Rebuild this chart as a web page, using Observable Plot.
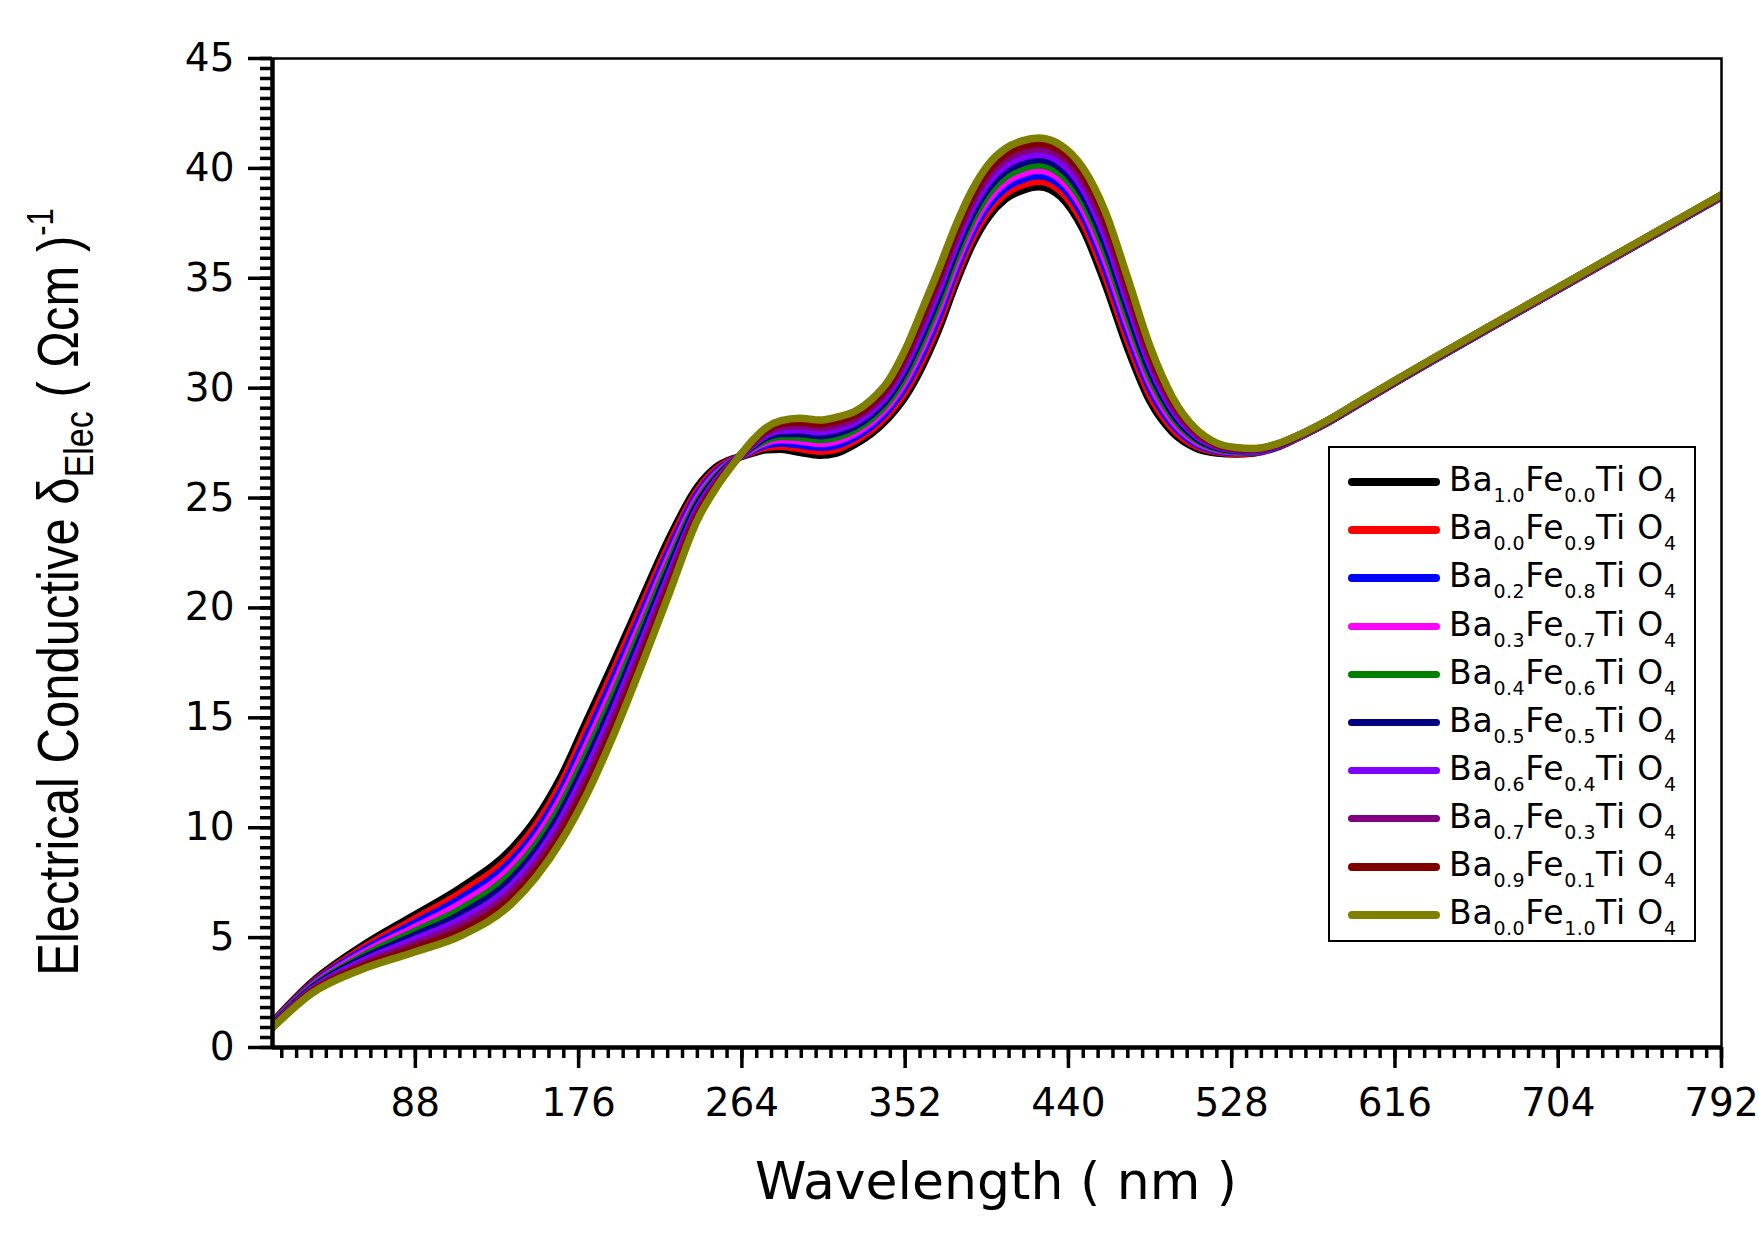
<!DOCTYPE html>
<html>
<head>
<meta charset="utf-8">
<script src="https://cdn.jsdelivr.net/npm/d3@7"></script>
<script src="https://cdn.jsdelivr.net/npm/@observablehq/plot@0.6"></script>
<style>
  body { margin: 0; background: #fff; }
  #wrap { position: relative; width: 1759px; height: 1235px; overflow: hidden; }
  #chart svg { display: block; }
  #ylabel {
    position: absolute; left: 59px; top: 592px;
    transform: translate(-50%, -50%) rotate(-90deg) scaleY(1.18);
    white-space: nowrap; font: 49px "Liberation Sans", Arial, sans-serif; line-height: 1;
  }
  #ylabel .sub { font-size: 34px; position: relative; top: 12px; }
  #ylabel .sup { font-size: 31px; position: relative; top: -22px; }
  #xlabel {
    position: absolute; left: 996px; top: 1155px; transform: translateX(-50%);
    white-space: nowrap; font: 52px "DejaVu Sans", sans-serif; line-height: 1;
  }
  #legend {
    position: absolute; left: 1328px; top: 446px; width: 368px; height: 496px;
    box-sizing: border-box; border: 2.5px solid #000; background: #fff;
  }
  .row { position: absolute; left: 0; height: 48px; width: 100%; }
  .swatch { position: absolute; left: 18px; top: 20px; width: 92px; height: 7.5px; border-radius: 4px; }
  .lbl {
    position: absolute; left: 119px; top: 5px; white-space: nowrap;
    font: 33px "DejaVu Sans", sans-serif; line-height: 1; letter-spacing: 0.8px;
  }
  .lbl .s { font-size: 19px; position: relative; top: 11px; letter-spacing: 0.5px; }
</style>
</head>
<body>
<div id="wrap">
  <div id="chart"></div>
  <div id="ylabel">Electrical Conductive δ<span class="sub">Elec</span> ( Ωcm )<span class="sup">-1</span></div>
  <div id="xlabel">Wavelength ( nm )</div>
  <div id="legend"></div>
</div>
<script>
// ── data ─────────────────────────────────────────────────────
const WAVELENGTH = [11, 32, 59, 86, 113, 140, 153, 167, 180, 195, 210, 225, 240, 250, 258,
  264, 270, 277, 285, 295, 306, 315, 325, 334, 343, 352, 361, 370, 379, 388, 397, 406, 415,
  424, 436, 448, 460, 472, 484, 496, 508, 520, 530, 540, 552, 565, 580, 595, 610, 700, 792];

const BA10_FE00 = [1.15, 2.95, 4.6, 5.95, 7.3, 9.05, 10.4, 12.4, 14.8, 17.55, 20.4, 23.2, 25.5, 26.4, 26.75,
  26.9, 27.05, 27.2, 27.22, 27.08, 26.95, 27.05, 27.45, 27.95, 28.65, 29.6, 30.95, 32.65, 34.7, 36.5, 37.8, 38.6, 39.0,
  39.17, 38.7, 37.2, 34.7, 31.8, 29.4, 28.0, 27.3, 27.05, 27.0, 27.05, 27.3, 27.8, 28.45, 29.2, 29.95, 34.3, 38.7];
const BA00_FE09 = [1.12, 2.89, 4.48, 5.77, 7.06, 8.77, 10.11, 12.07, 14.43, 17.18, 20.07, 22.92, 25.33, 26.29, 26.71,
  26.92, 27.12, 27.31, 27.36, 27.25, 27.13, 27.23, 27.62, 28.12, 28.84, 29.84, 31.24, 32.96, 34.99, 36.78, 38.07, 38.86, 39.25,
  39.42, 38.96, 37.51, 35.07, 32.16, 29.68, 28.18, 27.40, 27.10, 27.03, 27.07, 27.32, 27.81, 28.46, 29.21, 29.96, 34.31, 38.71];
const BA02_FE08 = [1.09, 2.84, 4.37, 5.58, 6.81, 8.49, 9.81, 11.74, 14.06, 16.82, 19.73, 22.64, 25.17, 26.19, 26.67,
  26.93, 27.18, 27.42, 27.51, 27.42, 27.31, 27.41, 27.78, 28.29, 29.03, 30.08, 31.53, 33.26, 35.29, 37.06, 38.33, 39.11, 39.50,
  39.66, 39.22, 37.82, 35.43, 32.51, 29.96, 28.36, 27.50, 27.15, 27.07, 27.09, 27.33, 27.82, 28.47, 29.22, 29.97, 34.32, 38.72];
const BA03_FE07 = [1.07, 2.78, 4.25, 5.40, 6.57, 8.22, 9.52, 11.42, 13.68, 16.45, 19.40, 22.37, 25.00, 26.08, 26.63,
  26.95, 27.25, 27.53, 27.65, 27.60, 27.48, 27.59, 27.95, 28.47, 29.22, 30.32, 31.82, 33.57, 35.58, 37.33, 38.60, 39.37, 39.75,
  39.91, 39.48, 38.13, 35.80, 32.87, 30.23, 28.53, 27.60, 27.20, 27.10, 27.12, 27.35, 27.83, 28.48, 29.23, 29.98, 34.33, 38.73];
const BA04_FE06 = [1.04, 2.73, 4.13, 5.22, 6.32, 7.94, 9.22, 11.09, 13.31, 16.08, 19.07, 22.09, 24.83, 25.98, 26.59,
  26.97, 27.32, 27.64, 27.80, 27.77, 27.66, 27.77, 28.12, 28.64, 29.41, 30.56, 32.11, 33.87, 35.88, 37.61, 38.87, 39.62, 40.00,
  40.15, 39.74, 38.44, 36.17, 33.22, 30.51, 28.71, 27.70, 27.25, 27.13, 27.14, 27.37, 27.84, 28.49, 29.24, 29.99, 34.34, 38.74];
const BA05_FE05 = [1.01, 2.67, 4.02, 5.03, 6.08, 7.66, 8.93, 10.76, 12.94, 15.72, 18.73, 21.81, 24.67, 25.87, 26.56,
  26.98, 27.38, 27.76, 27.94, 27.94, 27.84, 27.96, 28.28, 28.81, 29.59, 30.79, 32.39, 34.18, 36.17, 37.89, 39.13, 39.88, 40.25,
  40.40, 40.01, 38.76, 36.53, 33.58, 30.79, 28.89, 27.80, 27.30, 27.17, 27.16, 27.38, 27.86, 28.51, 29.26, 30.01, 34.36, 38.76];
const BA06_FE04 = [0.98, 2.62, 3.90, 4.85, 5.83, 7.38, 8.63, 10.43, 12.57, 15.35, 18.40, 21.53, 24.50, 25.77, 26.52,
  27.00, 27.45, 27.87, 28.09, 28.11, 28.02, 28.14, 28.45, 28.98, 29.78, 31.03, 32.68, 34.48, 36.47, 38.17, 39.40, 40.13, 40.50,
  40.64, 40.27, 39.07, 36.90, 33.93, 31.07, 29.07, 27.90, 27.35, 27.20, 27.18, 27.40, 27.87, 28.52, 29.27, 30.02, 34.37, 38.77];
const BA07_FE03 = [0.96, 2.56, 3.78, 4.67, 5.59, 7.11, 8.34, 10.11, 12.19, 14.98, 18.07, 21.26, 24.33, 25.66, 26.48,
  27.02, 27.52, 27.98, 28.23, 28.29, 28.19, 28.32, 28.62, 29.16, 29.97, 31.27, 32.97, 34.79, 36.76, 38.44, 39.67, 40.39, 40.75,
  40.89, 40.53, 39.38, 37.27, 34.29, 31.34, 29.24, 28.00, 27.40, 27.23, 27.21, 27.42, 27.88, 28.53, 29.28, 30.03, 34.38, 38.78];
const BA09_FE01 = [0.93, 2.51, 3.67, 4.48, 5.34, 6.83, 8.04, 9.78, 11.82, 14.62, 17.73, 20.98, 24.17, 25.56, 26.44,
  27.03, 27.58, 28.09, 28.38, 28.46, 28.37, 28.50, 28.78, 29.33, 30.16, 31.51, 33.26, 35.09, 37.06, 38.72, 39.93, 40.64, 41.00,
  41.13, 40.79, 39.69, 37.63, 34.64, 31.62, 29.42, 28.10, 27.45, 27.27, 27.23, 27.43, 27.89, 28.54, 29.29, 30.04, 34.39, 38.79];
const BA00_FE10 = [0.9, 2.45, 3.55, 4.3, 5.1, 6.55, 7.75, 9.45, 11.45, 14.25, 17.4, 20.7, 24.0, 25.45, 26.4,
  27.05, 27.65, 28.2, 28.52, 28.63, 28.55, 28.68, 28.95, 29.5, 30.35, 31.75, 33.55, 35.4, 37.35, 39.0, 40.2, 40.9, 41.25,
  41.38, 41.05, 40.0, 38.0, 35.0, 31.9, 29.6, 28.2, 27.5, 27.3, 27.25, 27.45, 27.9, 28.55, 29.3, 30.05, 34.4, 38.8];

// subscripts for Ba and Fe in the legend
const BA_SUB = ["1.0", "0.0", "0.2", "0.3", "0.4", "0.5", "0.6", "0.7", "0.9", "0.0"];
const FE_SUB = ["0.0", "0.9", "0.8", "0.7", "0.6", "0.5", "0.4", "0.3", "0.1", "1.0"];
const COLORS = ["#000000", "#ff0000", "#0000ff", "#ff00ff", "#008000",
                "#000080", "#8000ff", "#800080", "#800000", "#808000"];
const VALUES = [BA10_FE00, BA00_FE09, BA02_FE08, BA03_FE07, BA04_FE06,
                BA05_FE05, BA06_FE04, BA07_FE03, BA09_FE01, BA00_FE10];

const X_DOMAIN = [11, 792];
const X_MAJOR = [88, 176, 264, 352, 440, 528, 616, 704, 792];
const X_MINOR = d3.range(16, 793, 8);
const Y_MAJOR = [0, 5, 10, 15, 20, 25, 30, 35, 40, 45];
const Y_MINOR = d3.range(0, 45.001, 5 / 11);

// ── chart ────────────────────────────────────────────────────
// one mark per series so the draw order follows the legend (olive on top)
const lines = VALUES.map((vals, k) =>
  Plot.line(WAVELENGTH.map((w, i) => ({w, v: vals[i]})), {
    x: "w", y: "v", stroke: COLORS[k], strokeWidth: 7.5,
    curve: "monotone-x", strokeLinejoin: "round", clip: true
  })
);

const tickFont = {fontSize: 39, fontFamily: "DejaVu Sans"};

const chart = Plot.plot({
  width: 1759,
  height: 1235,
  marginLeft: 272,
  marginRight: 38,
  marginTop: 58,
  marginBottom: 188,
  style: {background: "#fff", color: "#000", fontFamily: "DejaVu Sans"},
  x: {domain: X_DOMAIN},
  y: {domain: [0, 45]},
  marks: [
    ...lines,
    Plot.frame({stroke: "#000", strokeWidth: 2.5}),
    Plot.axisX(X_MINOR, {tickSize: 11, strokeWidth: 3.5, tickFormat: () => "", label: null}),
    Plot.axisX(X_MAJOR, {tickSize: 21, strokeWidth: 3.5, tickPadding: 20, label: null, ...tickFont}),
    Plot.axisY(Y_MINOR, {tickSize: 12, strokeWidth: 3.5, tickFormat: () => "", label: null}),
    Plot.axisY(Y_MAJOR, {tickSize: 24, strokeWidth: 3.5, tickPadding: 14, label: null, ...tickFont}),
    Plot.ruleX([X_DOMAIN[0]], {stroke: "#000", strokeWidth: 4.5}),
    Plot.ruleY([0], {stroke: "#000", strokeWidth: 4.5})
  ]
});
document.getElementById("chart").appendChild(chart);

// ── legend ───────────────────────────────────────────────────
const legend = document.getElementById("legend");
COLORS.forEach((c, i) => {
  const row = document.createElement("div");
  row.className = "row";
  row.style.top = (10.2 + i * 48.1) + "px";
  row.innerHTML =
    `<span class="swatch" style="background:${c}"></span>` +
    `<span class="lbl">Ba<span class="s">${BA_SUB[i]}</span>Fe<span class="s">${FE_SUB[i]}</span>Ti O<span class="s">4</span></span>`;
  legend.appendChild(row);
});
</script>
</body>
</html>
